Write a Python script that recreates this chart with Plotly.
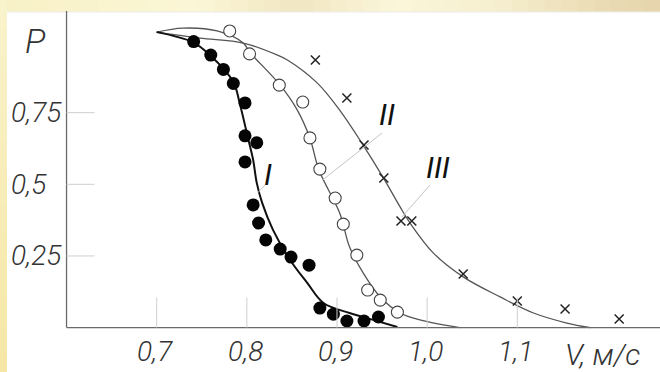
import plotly.graph_objects as go

# --- measured data -------------------------------------------------------
# Series I (filled circles)
v_I = [0.741, 0.760, 0.774, 0.785, 0.798, 0.798, 0.811, 0.798, 0.807, 0.813,
       0.821, 0.837, 0.849, 0.869, 0.881, 0.896, 0.911, 0.930, 0.946]
p_I = [0.998, 0.951, 0.901, 0.852, 0.784, 0.669, 0.645, 0.578, 0.428, 0.365,
       0.306, 0.274, 0.246, 0.218, 0.068, 0.047, 0.023, 0.023, 0.037]

# Series II (open circles)
v_II = [0.781, 0.803, 0.836, 0.862, 0.870, 0.881, 0.898, 0.907, 0.922, 0.934,
        0.948, 0.967]
p_II = [1.035, 0.955, 0.846, 0.787, 0.662, 0.553, 0.452, 0.361, 0.253, 0.131,
        0.096, 0.054]

# Series III (crosses)
v_III = [0.876, 0.911, 0.930, 0.952, 0.971, 0.983, 1.040, 1.100, 1.153, 1.213]
p_III = [0.934, 0.801, 0.637, 0.522, 0.372, 0.372, 0.187, 0.093, 0.065, 0.030]

# Smoothed approximation curves
cv_I = [0.700, 0.740, 0.759, 0.785, 0.792, 0.801, 0.807, 0.811, 0.817, 0.829,
        0.848, 0.867, 0.885, 0.914, 0.940, 0.967]
cp_I = [1.031, 0.996, 0.951, 0.857, 0.784, 0.665, 0.585, 0.505, 0.435, 0.341,
        0.236, 0.156, 0.086, 0.051, 0.027, 0.002]

cv_II = [0.700, 0.729, 0.767, 0.796, 0.803, 0.837, 0.856, 0.870, 0.880, 0.903,
         0.914, 0.929, 0.948, 0.970, 0.992, 1.036]
cp_II = [1.031, 1.045, 1.035, 0.993, 0.962, 0.846, 0.759, 0.661, 0.550, 0.400,
         0.281, 0.191, 0.107, 0.051, 0.027, 0.000]

cv_III = [0.700, 0.748, 0.796, 0.834, 0.845, 0.878, 0.903, 0.929, 0.951, 0.970,
          0.981, 1.007, 1.040, 1.081, 1.118, 1.155, 1.181]
cp_III = [1.031, 1.010, 0.993, 0.951, 0.934, 0.854, 0.759, 0.637, 0.525, 0.421,
          0.365, 0.260, 0.177, 0.107, 0.051, 0.016, 0.000]

x_ticks = [0.7, 0.8, 0.9, 1.0, 1.1]
x_tick_labels = ["0,7", "0,8", "0,9", "1,0", "1,1"]
y_ticks = [0.25, 0.5, 0.75]
y_tick_labels = ["0,25", "0,5", "0,75"]

# --- figure ---------------------------------------------------------------
W, H = 660, 372
X0, X1 = 0.5262, 1.2583
Y0, Y1 = -0.1549, 1.1431
FONT = "Roboto, DejaVu Sans Condensed, sans-serif"
TXT = "#333333"

fig = go.Figure()

curve_style = dict(mode="lines", line_shape="spline", hoverinfo="skip",
                   showlegend=False)
fig.add_trace(go.Scatter(x=cv_III, y=cp_III, line=dict(color="#555", width=1.3),
                         **curve_style))
fig.add_trace(go.Scatter(x=cv_II, y=cp_II, line=dict(color="#555", width=1.3),
                         **curve_style))
fig.add_trace(go.Scatter(x=cv_I, y=cp_I, line=dict(color="#111", width=2),
                         **curve_style))

fig.add_trace(go.Scatter(x=v_I, y=p_I, mode="markers", showlegend=False,
                         marker=dict(symbol="circle", size=13, color="#050505",
                                     line=dict(width=0))))
fig.add_trace(go.Scatter(x=v_II, y=p_II, mode="markers", showlegend=False,
                         marker=dict(symbol="circle", size=12, color="white",
                                     line=dict(width=1.1, color="#444"))))
fig.add_trace(go.Scatter(x=v_III, y=p_III, mode="markers", showlegend=False,
                         marker=dict(symbol="x-thin", size=9,
                                     line=dict(width=1.5, color="#222"))))

shapes = []


def hexmix(c1, c2, t):
    a = [int(c1[i:i + 2], 16) for i in (1, 3, 5)]
    b = [int(c2[i:i + 2], 16) for i in (1, 3, 5)]
    return "#" + "".join(f"{round(a[k] + (b[k] - a[k]) * t):02x}" for k in range(3))


# warm gradient frame along the top and left edges
top_stops = [(0.0, "#f8f1c6"), (0.3, "#fbf6d6"), (0.45, "#f1e6c2"),
             (0.6, "#fbf6da"), (0.75, "#f6efcf"), (0.9, "#ebdcb5"), (1.0, "#e6d5ac")]
n = 40
for i in range(n):
    t0, t1 = i / n, (i + 1) / n
    tm = (t0 + t1) / 2
    for (a, ca), (b, cb) in zip(top_stops[:-1], top_stops[1:]):
        if a <= tm <= b:
            col = hexmix(ca, cb, (tm - a) / (b - a))
            break
    shapes.append(dict(type="rect", xref="paper", yref="paper", x0=t0, x1=t1 + 0.002,
                       y0=1 - 12 / H, y1=1, fillcolor=col, line_width=0, layer="below"))
for i in range(n):
    t0, t1 = i / n, (i + 1) / n
    col = hexmix("#f9f3cc", "#f6e7a6", (t0 + t1) / 2)
    shapes.append(dict(type="rect", xref="paper", yref="paper", x0=0, x1=7 / W,
                       y0=1 - t1 - 0.002, y1=1 - t0, fillcolor=col, line_width=0,
                       layer="below"))
shapes.append(dict(type="line", xref="paper", yref="paper", x0=7 / W, x1=1,
                   y0=1 - 12 / H, y1=1 - 12 / H, line=dict(color="#ececec", width=1)))

# axes
shapes.append(dict(type="line", xref="x", yref="y", x0=0.6, x1=X1, y0=0, y1=0,
                   line=dict(color="#6a6a6a", width=1.3)))
shapes.append(dict(type="line", xref="x", yref="y", x0=0.6, x1=0.6, y0=0,
                   y1=(327.6 - 11) / 286.6, line=dict(color="#6a6a6a", width=1.3)))
for xv in x_ticks:
    shapes.append(dict(type="line", xref="x", yref="y", x0=xv, x1=xv, y0=0, y1=0.105,
                       line=dict(color="#cfcfcf", width=1)))
for yv in y_ticks:
    shapes.append(dict(type="line", xref="x", yref="y", x0=0.6, x1=0.631, y0=yv, y1=yv,
                       line=dict(color="#cfcfcf", width=1)))

# leader lines from the series labels
for (xa, ya, xb, yb) in [(0.820, 0.497, 0.812, 0.470),
                         (0.950, 0.679, 0.884, 0.515),
                         (1.003, 0.497, 0.972, 0.386)]:
    shapes.append(dict(type="line", xref="x", yref="y", x0=xa, y0=ya, x1=xb, y1=yb,
                       line=dict(color="#c4c4c4", width=1)))

label_font = dict(family=FONT, size=28, color=TXT, style="italic", weight=300)
annotations = []
for xv, lab in zip(x_ticks, x_tick_labels):
    annotations.append(dict(x=xv - 0.002, y=-0.085, xref="x", yref="y", text=lab,
                            showarrow=False, xanchor="center", yanchor="middle",
                            font=label_font))
for yv, lab in zip(y_ticks, y_tick_labels):
    annotations.append(dict(x=9 / W, y=yv, xref="paper", yref="y", text=lab,
                            showarrow=False, xanchor="left", yanchor="middle",
                            font=label_font))
annotations.append(dict(x=35 / W, y=1.0, xref="paper", yref="y", text="P",
                        showarrow=False, xanchor="center", yanchor="middle",
                        font=dict(label_font, size=34)))
annotations.append(dict(x=602 / W, y=-0.095, xref="paper", yref="y", text="V, м/с",
                        showarrow=False, xanchor="center", yanchor="middle",
                        font=dict(label_font, size=30)))
for xv, yv, lab in [(0.824, 0.535, "I"), (0.955, 0.745, "II"), (1.012, 0.560, "III")]:
    annotations.append(dict(x=xv, y=yv, xref="x", yref="y", text=lab,
                            showarrow=False, xanchor="center", yanchor="middle",
                            font=dict(label_font, size=30, color="#111", weight=400)))

axis_off = dict(showgrid=False, zeroline=False, showticklabels=False, showline=False,
                ticks="", fixedrange=True)
fig.update_layout(
    width=W, height=H,
    margin=dict(l=0, r=0, t=0, b=0),
    paper_bgcolor="white", plot_bgcolor="rgba(0,0,0,0)",
    xaxis=dict(range=[X0, X1], domain=[0, 1], **axis_off),
    yaxis=dict(range=[Y0, Y1], domain=[0, 1], **axis_off),
    shapes=shapes, annotations=annotations, showlegend=False,
)

fig.write_html("out.html")
